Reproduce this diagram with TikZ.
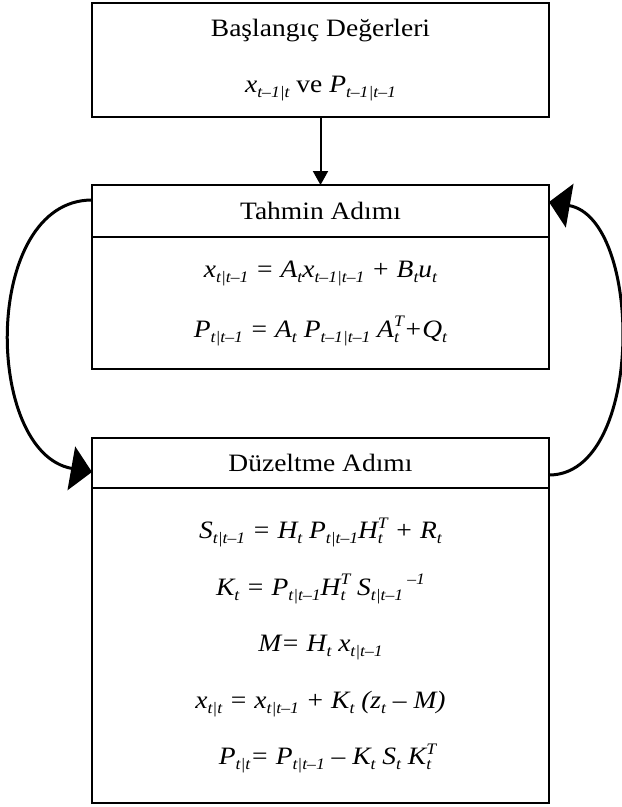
\documentclass[tikz,border=0pt]{standalone}
\usepackage{fontspec}
\setmainfont{Liberation Serif}[FakeStretch=1.1]
\usetikzlibrary{positioning,arrows.meta}

% small indices for the filter equations
\newcommand{\ssb}[1]{\raisebox{-0.2em}{\fontsize{16}{16}\selectfont\itshape #1}}
\newcommand{\ssp}[1]{\raisebox{0.42em}{\fontsize{16}{16}\selectfont\itshape #1}}
\newcommand{\ssbp}[2]{\makebox[0pt][l]{\ssb{#1}}\ssp{#2}}

\begin{document}
\begin{tikzpicture}[
  x=1pt, y=1pt,
  font=\fontsize{25}{30}\selectfont,
  box/.style={draw, line width=2pt, outer sep=0pt, inner sep=0pt, minimum width=457pt, align=center, anchor=north west},
  eqs/.style={font=\itshape\fontsize{25}{#1}\selectfont},
  eqs/.default=56,
  flow/.style={-{Triangle[length=14pt,width=15pt]}, line width=2pt},
  turn/.style={-{Triangle[length=21pt,width=44pt]}, line width=3pt}
]
\useasboundingbox (0,0) rectangle (622,-807);

% Left edge of the boxes, top of each block
\def\cL{92}
\def\rA{-3}
\def\rB{-185}
\def\rC{-438}

% Initial values
\node[box, minimum height=114pt, font=\fontsize{25}{56}\selectfont] (start) at (\cL,\rA) {
  Başlangıç Değerleri\\
  \textit{x}\ssb{t–1|t} ve \textit{P}\ssb{t–1|t–1}
};

% Prediction step
\node[box, minimum height=52pt] (predHead) at (\cL,\rB) {Tahmin Adımı};
\node[box, minimum height=132pt, below=0pt of predHead, eqs=60] (predBody) {
  x\ssb{t|t–1} = A\ssb{t}x\ssb{t–1|t–1} + B\ssb{t}u\ssb{t}\\
  P\ssb{t|t–1} = A\ssb{t} P\ssb{t–1|t–1} A\ssbp{t}{T}+Q\ssb{t}
};

% Correction step
\node[box, minimum height=50pt] (corrHead) at (\cL,\rC) {Düzeltme Adımı};
\node[box, minimum height=315pt, below=0pt of corrHead, eqs=56.5] (corrBody) {
  S\ssb{t|t–1} = H\ssb{t} P\ssb{t|t–1}H\ssbp{t}{T} + R\ssb{t}\\
  K\ssb{t} = P\ssb{t|t–1}H\ssbp{t}{T} S\ssb{t|t–1}\,\ssp{–1}\\
  M= H\ssb{t} x\ssb{t|t–1}\\
  x\ssb{t|t} = x\ssb{t|t–1} + K\ssb{t} (z\ssb{t} – M)\\
  \hspace{14pt}P\ssb{t|t}= P\ssb{t|t–1} – K\ssb{t} S\ssb{t} K\ssbp{t}{T}
};

% Connectors
\draw[flow] (start) -- (predHead);
\draw[turn] ([yshift=11pt]predHead.west) to[out=180, in=170, looseness=1.04] ([yshift=-9pt]corrHead.west);
\draw[turn] ([yshift=-12pt]corrHead.east) to[out=0, in=-10, looseness=0.9] ([yshift=9pt]predHead.east);

\end{tikzpicture}
\end{document}
